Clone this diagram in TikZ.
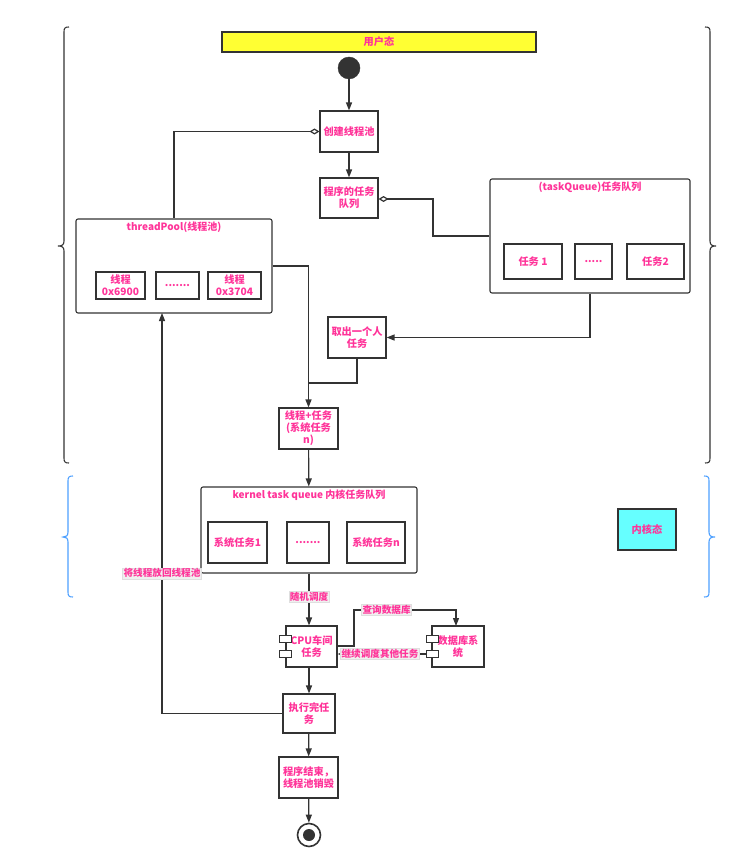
\documentclass[tikz,border=0pt]{standalone}
\usepackage{fontspec}
\setmainfont{Noto Sans CJK SC}
\usetikzlibrary{arrows.meta,calc}
\definecolor{pk}{RGB}{255,51,153}
\definecolor{ln}{RGB}{51,51,51}
\definecolor{yel}{RGB}{255,255,51}
\definecolor{cy}{RGB}{102,255,255}
\definecolor{bl}{RGB}{77,160,255}
\begin{document}
\begin{tikzpicture}[x=1pt,y=-1pt,
  base/.style={draw=ln,line width=1.1pt,fill=white,align=center,text=pk,
    font=\bfseries\fontsize{10.2}{12}\selectfont,inner sep=1pt},
  container/.style={base,rounded corners=2pt},
  ttl/.style={text=pk,font=\bfseries\fontsize{10}{12}\selectfont,inner sep=0pt,anchor=north},
  comp/.style={draw=ln,line width=1.0pt,fill=white,minimum width=12,minimum height=7,inner sep=0pt},
  conn/.style={draw=ln,line width=1.2pt},
  arr/.style={conn,-{Triangle[length=8pt,width=6pt]}},
  agg/.style={conn,{Diamond[open,length=10pt,width=6pt]}-},
  elab/.style={text=pk,fill=gray!12,draw=gray!25,line width=0.4pt,inner sep=1pt,
    font=\bfseries\fontsize{9.6}{11}\selectfont},
  brk/.style={draw=ln,line width=1.1pt},
  brb/.style={draw=bl,line width=1.1pt}
]
\useasboundingbox[fill=white] (0,0) rectangle (731,853);

% user-state bar
\node[base,fill=yel,minimum width=314,minimum height=20] (user) at (379,42) {用户态};
\node[circle,fill=ln,draw=ln,minimum size=22,inner sep=0pt] (start) at (349,68) {};

\node[base,minimum width=58,minimum height=41] (cj) at (349,131.5) {创建线程池};
\node[base,minimum width=58,minimum height=40] (rwq) at (349,198) {程序的任务\\队列};

% thread pool
\node[container,minimum width=196,minimum height=94] (tp) at (174,266) {};
\node[ttl] (tpt) at ($(tp.north)+(0,3)$) {threadPool(线程池)};
\node[base,minimum width=49,minimum height=27] (t1) at (120.5,285.5) {线程\\0x6900};
\node[base,minimum width=43,minimum height=27] (td) at (177.5,285.5) {.......};
\node[base,minimum width=53,minimum height=27] (t2) at (234.5,285.5) {线程\\0x3704};

% task queue
\node[container,minimum width=200,minimum height=114] (tq) at (590,236) {};
\node[ttl] (tqt) at ($(tq.north)+(0,3)$) {(taskQueue)任务队列};
\node[base,minimum width=58,minimum height=35] (q1) at (533,261.5) {任务 1};
\node[base,minimum width=37,minimum height=35] (qd) at (593.5,261.5) {.....};
\node[base,minimum width=57,minimum height=35] (q2) at (655.5,261.5) {任务2};

\node[base,minimum width=58,minimum height=41] (qc) at (357,337.5) {取出一个人\\任务};
\node[base,minimum width=59,minimum height=41] (xr) at (308.5,428.5) {线程+任务\\(系统任务\\n)};
\coordinate (j) at (308.5,383);

% kernel queue
\node[container,minimum width=216,minimum height=86] (kq) at (309,530) {};
\node[ttl] (kqt) at ($(kq.north)+(0,3)$) {kernel task queue 内核任务队列};
\node[base,minimum width=59,minimum height=41] (k1) at (237.5,542.5) {系统任务1};
\node[base,minimum width=42,minimum height=41] (kd) at (308,542.5) {.......};
\node[base,minimum width=58,minimum height=41] (kn) at (376,542.5) {系统任务n};

\node[base,fill=cy,minimum width=58,minimum height=41] (ks) at (647,529.5) {内核态};

% CPU and DB components
\node[base,minimum width=51,minimum height=41] (cpu) at (311.5,646.5) {CPU车间\\任务};
\node[comp] (cpu1) at (285.5,638.5) {};
\node[comp] (cpu2) at (285.5,654) {};
\node[base,minimum width=52,minimum height=41] (db) at (458,646.5) {数据库系\\统};
\node[comp] (db1) at (432.5,638.5) {};
\node[comp] (db2) at (432.5,654) {};

\node[base,minimum width=52,minimum height=39] (ex) at (309,713.5) {执行完任\\务};
\node[base,minimum width=59,minimum height=41] (fin) at (308.5,777.5) {程序结束，\\线程池销毁};
\node[circle,draw=ln,line width=1.6pt,fill=white,minimum size=23,inner sep=0pt] (endc) at (309,835) {};
\node[circle,fill=ln,minimum size=12,inner sep=0pt] (endd) at (309,835) {};

% connectors
\draw[arr] (start) -- (cj);
\draw[arr] (cj) -- (rwq);
\draw[agg] (cj.west) -| (tp.north);
\draw[agg] (rwq.east |- 0,199) -- (433,199) |- (tq.west);
\draw[arr] (tp.east) -| (xr.north);
\draw[arr] (tq.south) |- (qc.east);
\draw[conn] (qc.south) |- (j);
\draw[arr] (xr) -- (kq);
\draw[arr] (kq.south) -- node[elab,pos=0.45] {随机调度} (kq.south |- cpu.north);
\coordinate (cq1) at (354,610);
\draw[arr] (cpu.east |- 0,646) -| (cq1) -| node[elab,pos=0.16] {查询数据库} (456,626);
\draw[arr] (db2.west) -- node[elab,pos=0.52] {继续调度其他任务} (db2.west -| cpu.east);
\draw[arr] (ex.north |- cpu.south) -- (ex.north);
\coordinate (rb) at (162,313);
\draw[arr] (ex.west) -| node[elab,pos=0.675] {将线程放回线程池} (rb);
\draw[arr] (ex) -- (fin);
\draw[arr] (fin) -- (endc);

% braces
\draw[brk] (69,27) .. controls (65,27) and (64,28) .. (64,32) -- (64,241)
  .. controls (64,245) and (62,246) .. (58,246) .. controls (62,246) and (64,247) .. (64,251)
  -- (64,458) .. controls (64,462) and (65,463) .. (69,463);
\draw[brk] (705,27) .. controls (709,27) and (710,28) .. (710,32) -- (710,241)
  .. controls (710,245) and (712,246) .. (716,246) .. controls (712,246) and (710,247) .. (710,251)
  -- (710,458) .. controls (710,462) and (709,463) .. (705,463);
\draw[brb] (73,476) .. controls (69,476) and (68,477) .. (68,481) -- (68,532)
  .. controls (68,536) and (66,537) .. (63,537) .. controls (66,537) and (68,538) .. (68,542)
  -- (68,592) .. controls (68,596) and (69,597) .. (73,597);
\draw[brb] (704,476) .. controls (708,476) and (709,477) .. (709,481) -- (709,532)
  .. controls (709,536) and (711,537) .. (715,537) .. controls (711,537) and (709,538) .. (709,542)
  -- (709,592) .. controls (709,596) and (708,597) .. (704,597);
\end{tikzpicture}
\end{document}
